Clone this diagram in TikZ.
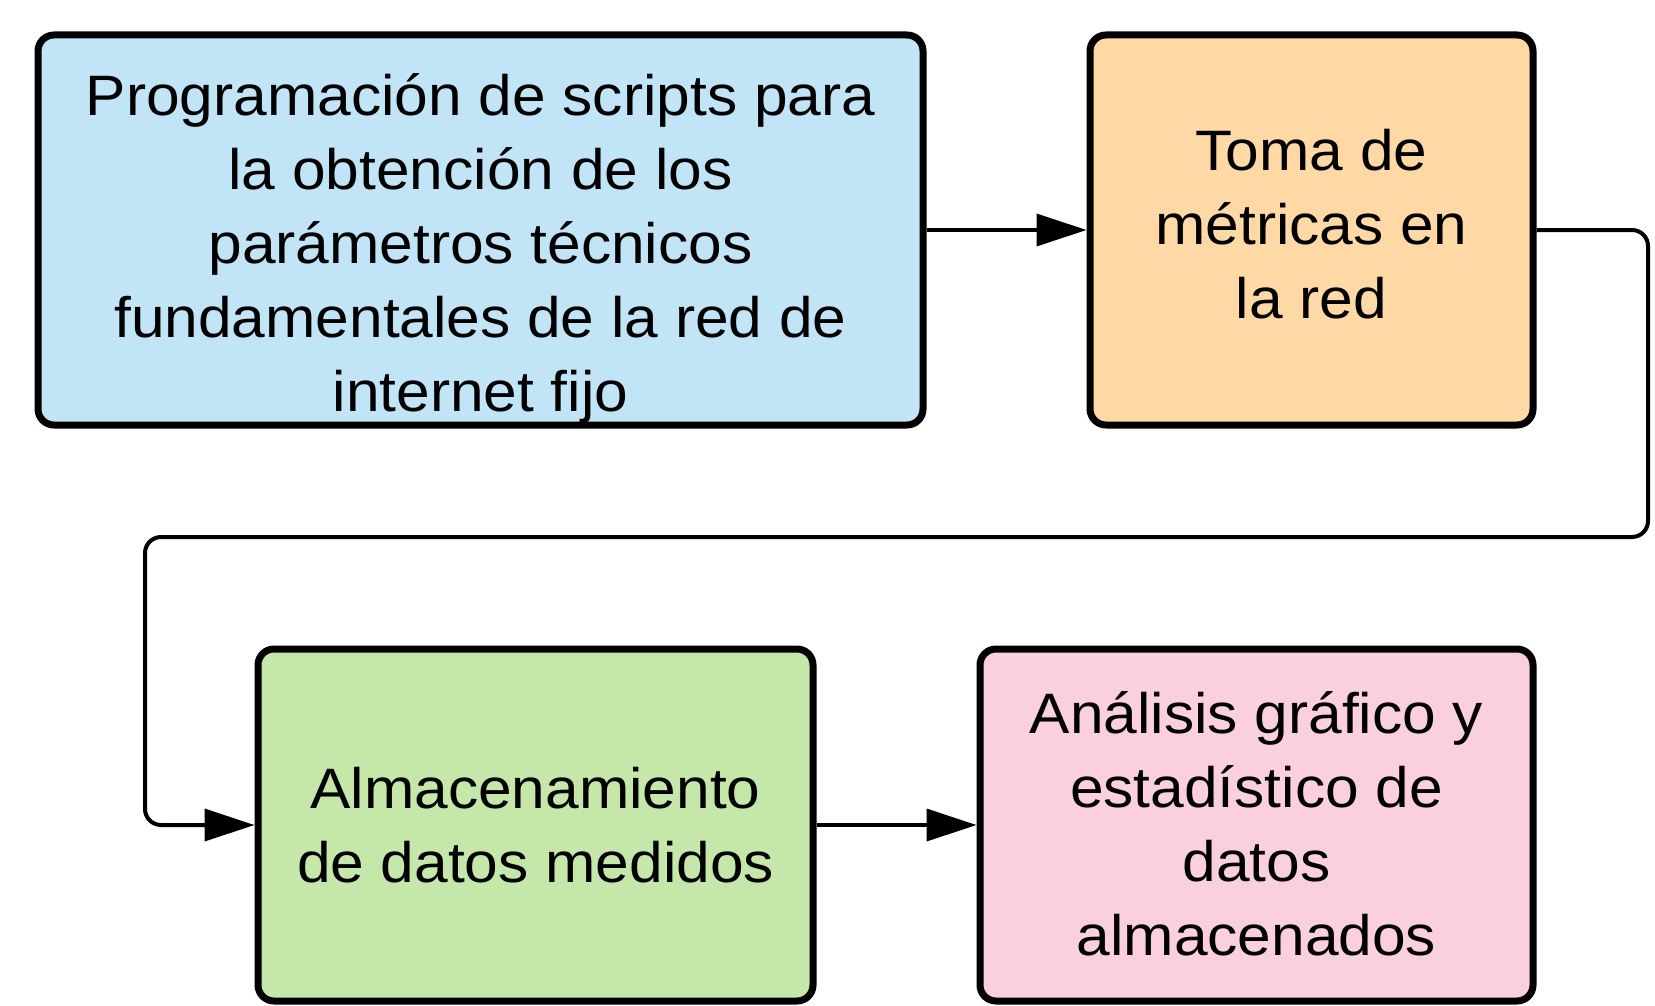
\documentclass[tikz,border=0pt]{standalone}
\usepackage{fontspec}
\setmainfont{Liberation Sans}[FakeStretch=1.06]
\usetikzlibrary{arrows.meta}
\definecolor{cblue}{HTML}{C1E4F6}
\definecolor{corange}{HTML}{FED9A6}
\definecolor{cgreen}{HTML}{C6E7AA}
\definecolor{cpink}{HTML}{F9D0DC}
\begin{document}
\begin{tikzpicture}[x=1pt,y=-1pt,
  box/.style={draw=black, line width=7pt, rounded corners=16pt, inner sep=0pt},
  txt/.style={align=center, font=\fontsize{57pt}{74pt}\selectfont, inner sep=0pt},
  conn/.style={line width=4pt, rounded corners=16pt, -{Triangle[length=50pt,width=32pt]}}]
\useasboundingbox[fill=white] (0,0) rectangle (1655,1006);
\node[box, fill=cblue, minimum width=885pt, minimum height=390pt] (b1) at (480.5,230) {};
\node[box, fill=corange, minimum width=443pt, minimum height=390pt] (b2) at (1311.5,230) {};
\node[box, fill=cgreen, minimum width=555pt, minimum height=352pt] (b3) at (535.5,825) {};
\node[box, fill=cpink, minimum width=553pt, minimum height=352pt] (b4) at (1256.5,825) {};
\node[txt] (t1) at (480.5,248) {Programación de scripts para\\la obtención de los\\parámetros técnicos\\fundamentales de la red de\\internet fijo};
\node[txt] (t2) at (1311.5,224) {Toma de\\métricas en\\la red};
\node[txt] (t3) at (535.5,825) {Almacenamiento\\de datos medidos};
\node[txt] (t4) at (1256.5,824) {Análisis gráfico y\\estadístico de\\datos\\almacenados};
\coordinate (r) at (1648,537);
\coordinate (l) at (145,537);
\draw[conn] (b1.east) -- (b2.west);
\draw[conn] (b2.east) -| (r) -- (l) |- (b3.west);
\draw[conn] (b3.east) -- (b4.west);
\end{tikzpicture}
\end{document}
